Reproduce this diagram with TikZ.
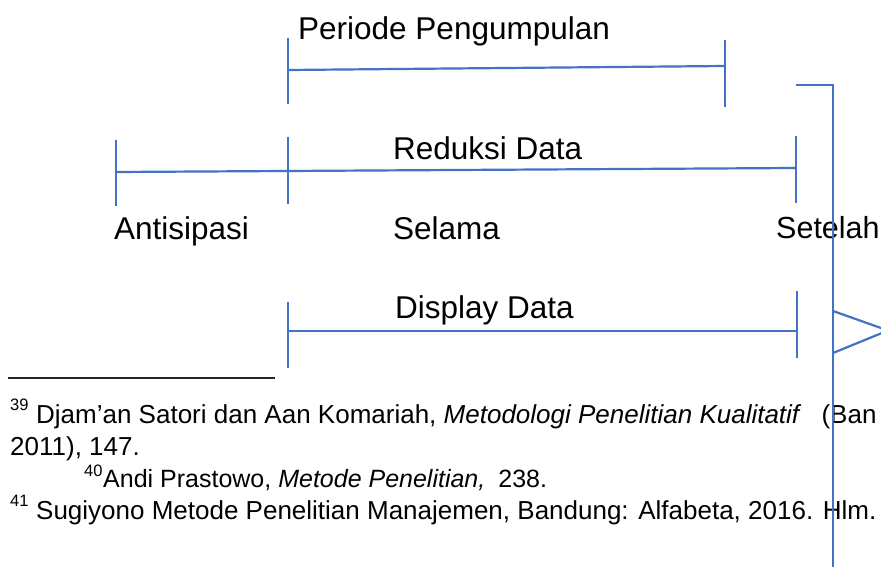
\documentclass[tikz,border=0pt]{standalone}
\usepackage{fontspec}
\setmainfont{Liberation Sans}
\definecolor{lineblue}{RGB}{68,114,196}
\tikzset{
  bar/.style={draw=lineblue, line width=2.2pt},
  lbl/.style={anchor=base west, inner sep=0pt, font=\fontsize{31.5}{36}\selectfont},
  fntext/.style={anchor=base west, inner sep=0pt, font=\fontsize{26}{30}\selectfont},
  fnsup/.style={anchor=base west, inner sep=0pt, font=\fontsize{16.5}{18}\selectfont},
}
\begin{document}
\begin{tikzpicture}[x=1pt,y=-1pt]
\useasboundingbox (0,0) rectangle (881,567);
\clip (0,0) rectangle (881,567);
\fill[white] (0,0) rectangle (881,567);

% labels
\node[lbl] (periode) at (298,39.5) {Periode Pengumpulan};
\node[lbl] (reduksi) at (393,160) {Reduksi Data};
\node[lbl] (antisipasi) at (114,239) {Antisipasi};
\node[lbl] (selama) at (393,239) {Selama};
\node[lbl, font=\fontsize{30.5}{36}\selectfont] (setelah) at (776,238.5) {Setelah};
\node[lbl] (display) at (395,318) {Display Data};

% Periode bracket
\coordinate (pL1) at (288,38);
\coordinate (pL2) at (288,104);
\coordinate (pLm) at (288,70);
\coordinate (pR1) at (725,40);
\coordinate (pR2) at (725,107);
\coordinate (pRm) at (725,66);
\draw[bar] (pL1) -- (pL2);
\draw[bar] (pR1) -- (pR2);
\draw[bar] (pLm) -- (pRm);

% Reduksi bracket
\coordinate (rL1) at (116,140);
\coordinate (rL2) at (116,206);
\coordinate (rLm) at (116,172);
\coordinate (rM1) at (288,137);
\coordinate (rM2) at (288,204);
\coordinate (rR1) at (796,136);
\coordinate (rR2) at (796,203);
\coordinate (rRm) at (796,168);
\draw[bar] (rL1) -- (rL2);
\draw[bar] (rM1) -- (rM2);
\draw[bar] (rR1) -- (rR2);
\draw[bar] (rLm) -- (rRm);

% Display bracket
\coordinate (dL1) at (288,302);
\coordinate (dL2) at (288,368);
\coordinate (dLm) at (288,331);
\coordinate (dR1) at (797,291);
\coordinate (dR2) at (797,358);
\coordinate (dRm) at (797,331);
\draw[bar] (dL1) -- (dL2);
\draw[bar] (dR1) -- (dR2);
\draw[bar] (dLm) -- (dRm);

% footnote rule
\coordinate (ruleA) at (8,378);
\coordinate (ruleB) at (275,378);
\draw[line width=2pt, black!85] (ruleA) -- (ruleB);

% footnotes
\node[fnsup] (s39) at (10,410) {39};
\node[fntext] (fn1) at (36,423) {Djam’an Satori dan Aan Komariah, \textit{Metodologi Penelitian Kualitatif}\hspace{20pt}(Ban};
\node[fntext] (fn1b) at (10,455) {2011), 147.};
\node[fnsup] (s40) at (84,476) {40};
\node[fntext, font=\fontsize{25}{30}\selectfont] (fn2) at (103,487) {Andi Prastowo, \textit{Metode Penelitian,}\hspace{13pt}238.};
\node[fnsup] (s41) at (10,506) {41};
\node[fntext] (fn3) at (36,519) {Sugiyono Metode Penelitian Manajemen, Bandung: Alfabeta, 2016. Hlm.};

% right long line with arrowhead
\coordinate (tA) at (796,85);
\coordinate (tB) at (833,85);
\coordinate (tC) at (833,570);
\draw[bar] (tA) -- (tB) -- (tC);
\coordinate (aU) at (833,311);
\coordinate (aT) at (888,330.5);
\coordinate (aD) at (833,353);
\draw[bar] (aU) -- (aT) -- (aD);
\end{tikzpicture}
\end{document}
